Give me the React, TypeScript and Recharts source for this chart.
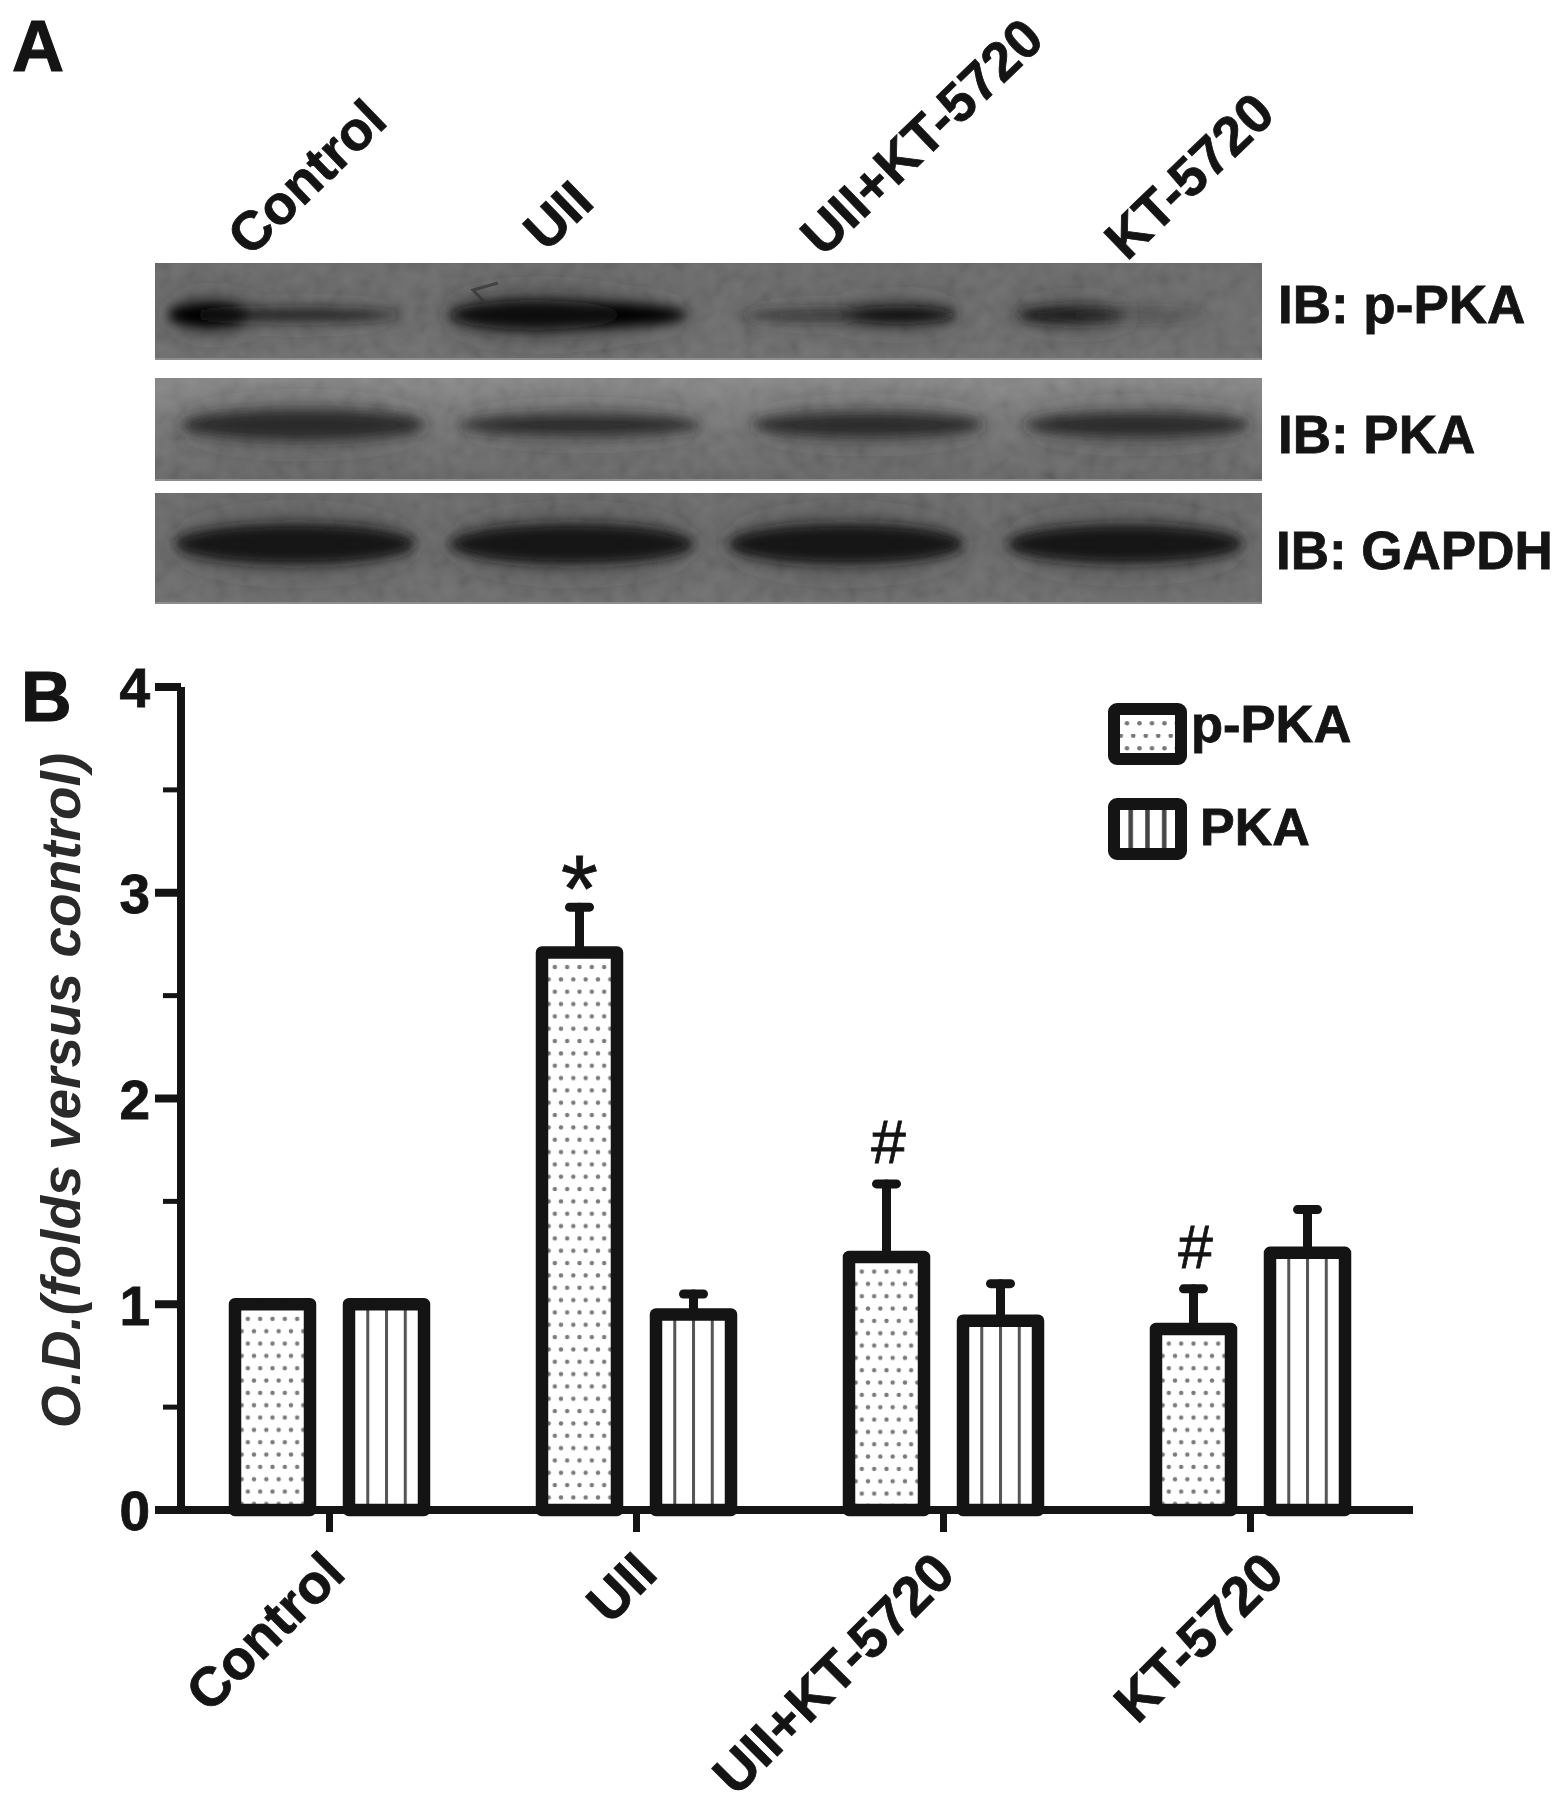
import React from 'react';
import { BarChart, Bar, XAxis, YAxis, ErrorBar, Legend, LabelList } from 'recharts';

const categories = ['Control', 'UII', 'UII+KT-5720', 'KT-5720'];
const pPkaValues = [1.0, 2.71, 1.23, 0.88];
const pPkaErrors = [0, 0.22, 0.355, 0.195];
const pkaValues = [1.0, 0.95, 0.92, 1.25];
const pkaErrors = [0, 0.1, 0.18, 0.21];
const pPkaMarks = ['', '*', '#', '#'];
const yTicks = [0, 0.5, 1, 1.5, 2, 2.5, 3, 3.5, 4];
const seriesNames = ['p-PKA', 'PKA'];

const data = categories.map((category, i) => ({
  category,
  pPka: pPkaValues[i],
  pPkaErr: [0, pPkaErrors[i]],
  pka: pkaValues[i],
  pkaErr: [0, pkaErrors[i]],
  mark: pPkaMarks[i],
}));

const FONT = '"Liberation Sans", Arial, sans-serif';
const INK = '#141414';
const PLOT_H = 822;
const UNIT = PLOT_H / 4;
const xLabelNudge = [2, 7, -2, 20];

// Panel A: immunoblot strips
const blotLabels = ['IB: p-PKA', 'IB: PKA', 'IB: GAPDH'];
const blotStrips = [
  { y: 263, h: 97, top: '#676767', bottom: '#6b6b6b', cy: 315, label: 323, labelX: 1278 },
  { y: 378, h: 103, top: '#868686', bottom: '#626262', cy: 425, label: 453, labelX: 1278 },
  { y: 493, h: 111, top: '#686868', bottom: '#6a6a6a', cy: 544, label: 569, labelX: 1276 },
];
// [cx, rx, ry, shade, opacity]
const blotBands: number[][][] = [
  [
    [210, 42, 13, 5, 1], [298, 104, 6, 25, 0.85],
    [568, 120, 13, 5, 1], [535, 85, 15, 10, 0.9],
    [848, 108, 5, 35, 0.8], [900, 56, 9, 15, 0.95],
    [1070, 54, 9, 20, 0.95], [1135, 72, 4, 55, 0.5],
  ],
  [
    [303, 122, 15, 38, 0.95],
    [580, 120, 10, 38, 0.95],
    [868, 115, 12, 38, 0.95],
    [1138, 112, 12, 38, 0.95],
  ],
  [
    [295, 120, 20, 22, 1],
    [572, 122, 20, 22, 1],
    [846, 118, 20, 22, 1],
    [1125, 118, 19, 22, 1],
  ],
];
const topLabels = [
  { text: 'Control', x: 250, y: 258 },
  { text: 'UII', x: 546, y: 253 },
  { text: 'UII+KT-5720', x: 823, y: 258 },
  { text: 'KT-5720', x: 1127, y: 262 },
];

const YTick = (props: any) => {
  const { x, y, payload } = props;
  const major = Number.isInteger(payload.value);
  return (
    <g>
      <line x1={x - (major ? 26 : 18)} x2={x} y1={y} y2={y} stroke={INK} strokeWidth={major ? 8 : 5} />
      {major && (
        <text x={x - 31} y={y} dy="0.37em" textAnchor="end" fontFamily={FONT} fontWeight={700} fontSize={55} fill={INK} stroke={INK} strokeWidth={0.8}>
          {payload.value}
        </text>
      )}
    </g>
  );
};

const XTick = (props: any) => {
  const { x, y, payload, index } = props;
  const ax = x + 16 + xLabelNudge[index];
  const ay = y + 66;
  return (
    <g>
      <line x1={x} x2={x} y1={y} y2={y + 22} stroke={INK} strokeWidth={7} />
      <text
        x={ax}
        y={ay}
        textAnchor="end"
        transform={`rotate(-45 ${ax} ${ay})`}
        fontFamily={FONT}
        fontWeight={700}
        fontSize={55}
        fill={INK}
        stroke={INK}
        strokeWidth={0.8}
      >
        {payload.value}
      </text>
    </g>
  );
};

const MarkLabel = (props: any) => {
  const { x, y, width, value, index } = props;
  if (!value) return null;
  const top = y - pPkaErrors[index] * UNIT;
  const cx = x + width / 2;
  return value === '*' ? (
    <text x={cx} y={top + 14} textAnchor="middle" fontFamily={FONT} fontWeight={400} fontSize={95} fill={INK} stroke={INK} strokeWidth={0.8}>
      {value}
    </text>
  ) : (
    <text x={cx + 2} y={top - 21} textAnchor="middle" fontFamily={FONT} fontWeight={400} fontSize={62} fill={INK} stroke={INK} strokeWidth={0.8}>
      {value}
    </text>
  );
};

// Dotted bar: the dot grid is anchored on each bar's top centre
const DotBar = (props: any) => {
  const { x, y, width, height, index } = props;
  const id = `dots-${index}`;
  return (
    <g>
      <defs>
        <pattern id={id} patternUnits="userSpaceOnUse" x={x + width / 2 - 6.17} y={y + 8.7} width={12.33} height={24.67}>
          <rect width={12.33} height={24.67} fill="#fff" />
          <circle cx={6.17} cy={6} r={2.2} fill="#7a7a7a" />
          <circle cx={0} cy={18.33} r={2.2} fill="#7a7a7a" />
          <circle cx={12.33} cy={18.33} r={2.2} fill="#7a7a7a" />
        </pattern>
      </defs>
      <rect
        x={x}
        y={y}
        width={width}
        height={height}
        fill={`url(#${id})`}
        stroke={INK}
        strokeWidth={12.5}
        strokeLinejoin="round"
      />
    </g>
  );
};

const LegendContent = () => {
  const items = seriesNames.map((name) => ({ value: name }));
  return (
    <svg width={270} height={175} style={{ display: 'block', overflow: 'visible' }}>
      <defs>
        <pattern id="dotsLegend" patternUnits="userSpaceOnUse" x={14} y={8} width={12.5} height={25}>
          <rect width={12.5} height={25} fill="#fff" />
          <circle cx={0.5} cy={14.3} r={2.3} fill="#777" />
          <circle cx={13} cy={14.3} r={2.3} fill="#777" />
          <circle cx={6.75} cy={1.8} r={2.3} fill="#777" />
        </pattern>
        <pattern id="vlinesLegend" patternUnits="objectBoundingBox" x={0.125} y={0} width={0.25} height={1}>
          <rect width={17} height={100} fill="#fff" />
          <rect x={6.1} width={4.5} height={100} fill="#444" />
        </pattern>
      </defs>
      {items.map((item: any, i: number) => {
        const dots = i === 0;
        const boxY = dots ? 8 : 103;
        return (
          <g key={item.value}>
            <rect
              x={14}
              y={boxY}
              width={67}
              height={50}
              rx={3}
              fill={dots ? 'url(#dotsLegend)' : 'url(#vlinesLegend)'}
              stroke={INK}
              strokeWidth={12}
              strokeLinejoin="round"
            />
            <text
              x={dots ? 91 : 100}
              y={dots ? 41 : 144}
              fontFamily={FONT}
              fontWeight={700}
              fontSize={dots ? 52.5 : 52}
              fill={INK}
              stroke={INK}
              strokeWidth={0.8}
            >
              {item.value}
            </text>
          </g>
        );
      })}
    </svg>
  );
};

const PanelA = () => (
  <svg width={1559} height={640} style={{ position: 'absolute', left: 0, top: 0, pointerEvents: 'none' }}>
    <defs>
      <filter id="blotCore" x="-30%" y="-80%" width="160%" height="260%">
        <feGaussianBlur stdDeviation="6" />
      </filter>
      <filter id="blotHalo" x="-30%" y="-100%" width="160%" height="300%">
        <feGaussianBlur stdDeviation="14" />
      </filter>
      <filter id="grain" x="0" y="0" width="100%" height="100%">
        <feTurbulence type="fractalNoise" baseFrequency="0.07" numOctaves="2" seed="7" />
        <feColorMatrix type="matrix" values="0 0 0 1.4 -0.2  0 0 0 1.4 -0.2  0 0 0 1.4 -0.2  0 0 0 0 1" />
        <feGaussianBlur stdDeviation="1.6" />
      </filter>
      {blotStrips.map((s, i) => (
        <React.Fragment key={i}>
          <clipPath id={`strip${i}`}>
            <rect x={155} y={s.y} width={1107} height={s.h} />
          </clipPath>
          <linearGradient id={`stripFill${i}`} x1="0" y1="0" x2="0" y2="1">
            <stop offset="0" stopColor={s.top} />
            <stop offset="1" stopColor={s.bottom} />
          </linearGradient>
        </React.Fragment>
      ))}
    </defs>
    <text x={12} y={71} fontFamily={FONT} fontWeight={700} fontSize={72} fill={INK} stroke={INK} strokeWidth={1.2}>A</text>
    {topLabels.map((l) => (
      <text
        key={l.text}
        x={l.x}
        y={l.y}
        transform={`rotate(-44 ${l.x} ${l.y})`}
        fontFamily={FONT}
        fontWeight={700}
        fontSize={54.5}
        fill={INK}
        stroke={INK}
        strokeWidth={0.8}
      >
        {l.text}
      </text>
    ))}
    {blotStrips.map((s, i) => (
      <g key={i} clipPath={`url(#strip${i})`}>
        <rect x={155} y={s.y} width={1107} height={s.h} fill={`url(#stripFill${i})`} />
        <rect x={155} y={s.y} width={1107} height={s.h} filter="url(#grain)" opacity={0.08} />
        <g filter="url(#blotHalo)">
          {blotBands[i].map((b, j) => (
            <ellipse key={j} cx={b[0]} cy={s.cy} rx={b[1] + 4} ry={b[2] * 1.6 + 3} fill="#2c2c2c" opacity={b[4] * 0.3} />
          ))}
        </g>
        <g filter="url(#blotCore)">
          {blotBands[i].map((b, j) => (
            <ellipse key={j} cx={b[0]} cy={s.cy} rx={b[1]} ry={b[2]} fill={`rgb(${b[3]},${b[3]},${b[3]})`} opacity={b[4]} />
          ))}
        </g>
        {i === 0 && <path d="M498 283 L473 290 L487 305" fill="none" stroke="#333" strokeWidth={3} opacity={0.7} />}
        <rect x={155} y={s.y + s.h - 2} width={1107} height={2} fill="#8c8c8c" />
      </g>
    ))}
    {blotLabels.map((t, i) => (
      <text
        key={t}
        x={blotStrips[i].labelX}
        y={blotStrips[i].label}
        fontFamily={FONT}
        fontWeight={700}
        fontSize={53}
        fill={INK}
        stroke={INK}
        strokeWidth={0.8}
      >
        {t}
      </text>
    ))}
  </svg>
);

export default function App() {
  return (
    <div style={{ position: 'absolute', left: 0, top: 0, width: 1559, height: 1807, background: '#fff' }}>
      <BarChart
        width={1559}
        height={1807}
        data={data}
        margin={{ top: 687, right: 146, bottom: 40, left: 0 }}
        barSize={75}
        barGap={39}
      >
        <defs>
          <pattern id="vlines" patternUnits="objectBoundingBox" x={0.125} y={0} width={0.25} height={1}>
            <rect width={19} height={1000} fill="#fff" />
            <rect x={7.9} width={3} height={1000} fill="#555" />
          </pattern>
        </defs>
        <XAxis
          dataKey="category"
          height={257}
          padding={{ left: -5, right: 9 }}
          axisLine={{ stroke: INK, strokeWidth: 8 }}
          tickLine={false}
          tickSize={0}
          tickMargin={0}
          tick={<XTick />}
          interval={0}
        />
        <YAxis
          domain={[0, 4]}
          ticks={yTicks}
          width={181}
          axisLine={{ stroke: INK, strokeWidth: 8 }}
          tickLine={false}
          tickSize={0}
          tickMargin={0}
          tick={<YTick />}
          interval={0}
          label={{
            value: 'O.D.(folds versus control)',
            angle: -90,
            position: 'insideLeft',
            offset: 60,
            dy: -8,
            style: {
              fontFamily: FONT,
              fontStyle: 'italic',
              fontWeight: 700,
              fontSize: 55,
              fill: '#2a2a2a',
              textAnchor: 'middle',
            },
          }}
        />
        <Legend
          content={<LegendContent />}
          layout="horizontal"
          verticalAlign="middle"
          align="center"
          wrapperStyle={{ position: 'absolute', left: 1100, top: 701, width: 270, height: 175 }}
        />
        <Bar dataKey="pPka" name={seriesNames[0]} fill="#fff" shape={<DotBar />} isAnimationActive={false}>
          <ErrorBar dataKey="pPkaErr" direction="y" width={10} stroke={INK} strokeWidth={9} strokeLinecap="round" isAnimationActive={false} />
          <LabelList dataKey="mark" content={<MarkLabel />} />
        </Bar>
        <Bar
          dataKey="pka"
          name={seriesNames[1]}
          fill="url(#vlines)"
          stroke={INK}
          strokeWidth={12.5}
          strokeLinejoin="round"
          isAnimationActive={false}
        >
          <ErrorBar dataKey="pkaErr" direction="y" width={10} stroke={INK} strokeWidth={9} strokeLinecap="round" isAnimationActive={false} />
        </Bar>
        <text x={21} y={721} fontFamily={FONT} fontWeight={700} fontSize={70} fill={INK} stroke={INK} strokeWidth={1.2}>B</text>
      </BarChart>
      <PanelA />
    </div>
  );
}
